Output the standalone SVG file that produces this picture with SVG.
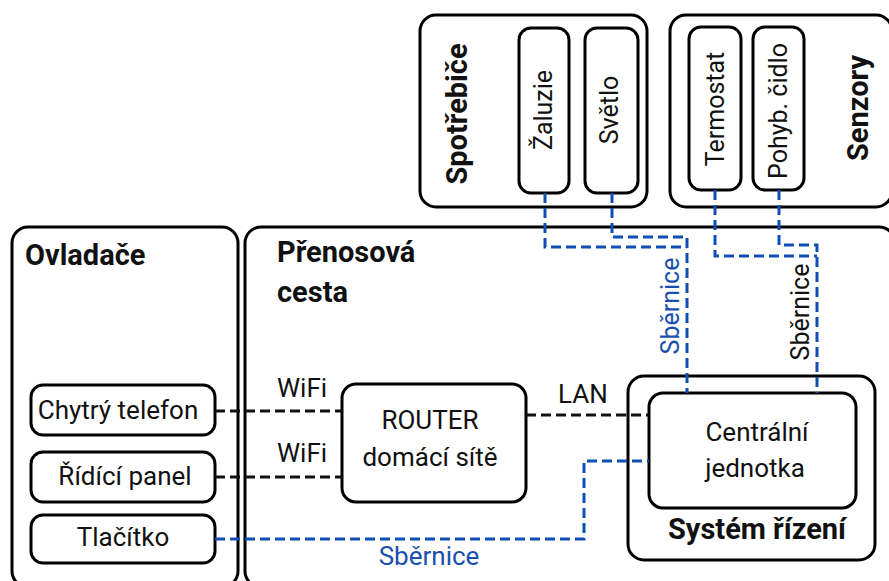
<svg xmlns="http://www.w3.org/2000/svg" width="889" height="581" viewBox="0 0 889 581">
<style>
.box{fill:#fff;stroke:#000;stroke-width:3}
.t{font-family:Roboto,"Liberation Sans",sans-serif;font-size:26px;fill:#111}
.v{font-size:25px}
.b{font-family:Roboto,"Liberation Sans",sans-serif;font-size:29px;font-weight:bold;fill:#111}
.bl{fill:#1a4fb0}
.dk{fill:none;stroke:#111;stroke-width:3;stroke-dasharray:10 5}
.db{fill:none;stroke:#0f4fb5;stroke-width:3;stroke-dasharray:10 5}
</style>
<rect width="889" height="581" fill="#fff"/>
<g id="spotrebice">
<rect class="box" x="420" y="15" width="227" height="192" rx="16"/>
<text class="b" transform="translate(467,114) rotate(-90)" text-anchor="middle">Spotřebiče</text>
</g>
<g id="zaluzie">
<rect class="box" x="519" y="28" width="50" height="165" rx="12"/>
<text class="t v" transform="translate(552,110) rotate(-90)" text-anchor="middle">Žaluzie</text>
</g>
<g id="svetlo">
<rect class="box" x="585" y="28" width="53" height="165" rx="12"/>
<text class="t v" transform="translate(618,110) rotate(-90)" text-anchor="middle">Světlo</text>
</g>
<g id="senzory">
<rect class="box" x="670" y="15" width="222" height="192" rx="16"/>
<text class="b" transform="translate(868,108) rotate(-90)" text-anchor="middle">Senzory</text>
</g>
<g id="termostat">
<rect class="box" x="689" y="27" width="52" height="163" rx="12"/>
<text class="t v" transform="translate(724,109) rotate(-90)" text-anchor="middle">Termostat</text>
</g>
<g id="pohyb">
<rect class="box" x="753" y="27" width="51" height="163" rx="12"/>
<text class="t v" transform="translate(787,111) rotate(-90)" text-anchor="middle">Pohyb. čidlo</text>
</g>
<g id="ovladace">
<rect class="box" x="12" y="227" width="226" height="360" rx="16"/>
<text class="b" x="25" y="265">Ovladače</text>
</g>
<g id="prenosova">
<rect class="box" x="245" y="227" width="650" height="360" rx="16"/>
<text class="b" x="277" y="262">Přenosová</text>
<text class="b" x="277" y="302">cesta</text>
</g>
<g id="telefon">
<rect class="box" x="31" y="385" width="184" height="50" rx="12"/>
<text class="t" x="118" y="419" text-anchor="middle">Chytrý telefon</text>
</g>
<g id="panel">
<rect class="box" x="31" y="452" width="184" height="50" rx="12"/>
<text class="t" x="125" y="485" text-anchor="middle">Řídící panel</text>
</g>
<g id="tlacitko">
<rect class="box" x="31" y="515" width="184" height="48" rx="12"/>
<text class="t" x="123" y="546" text-anchor="middle">Tlačítko</text>
</g>
<g id="router">
<rect class="box" x="342" y="384" width="184" height="118" rx="14"/>
<text class="t" x="430" y="429" text-anchor="middle">ROUTER</text>
<text class="t" x="430" y="466" text-anchor="middle">domácí sítě</text>
</g>
<g id="system">
<rect class="box" x="628" y="376" width="247" height="184" rx="16"/>
<text class="b" x="757" y="539" text-anchor="middle">Systém řízení</text>
</g>
<g id="centralni">
<rect class="box" x="649" y="393" width="207" height="115" rx="14"/>
<text class="t" x="757" y="441" text-anchor="middle">Centrální</text>
<text class="t" x="755" y="477" text-anchor="middle">jednotka</text>
</g>
<g id="connectors">
<path class="dk" d="M215 411H342"/>
<path class="dk" d="M215 477H342"/>
<path class="dk" d="M526 415H649"/>
<path class="db" d="M215 539H584V461H649"/>
<path class="db" d="M545 193V247H687"/>
<path class="db" d="M612 193V237H687V393"/>
<path class="db" d="M715 190V256H817"/>
<path class="db" d="M779 190V245H817V393"/>
<text class="t" x="277" y="397">WiFi</text>
<text class="t" x="277" y="462">WiFi</text>
<text class="t" x="558" y="403">LAN</text>
<text class="t bl" x="429" y="565" text-anchor="middle">Sběrnice</text>
<text class="t v bl" transform="translate(679,306) rotate(-90)" text-anchor="middle">Sběrnice</text>
<text class="t v" transform="translate(809,312) rotate(-90)" text-anchor="middle">Sběrnice</text>
</g>
</svg>
